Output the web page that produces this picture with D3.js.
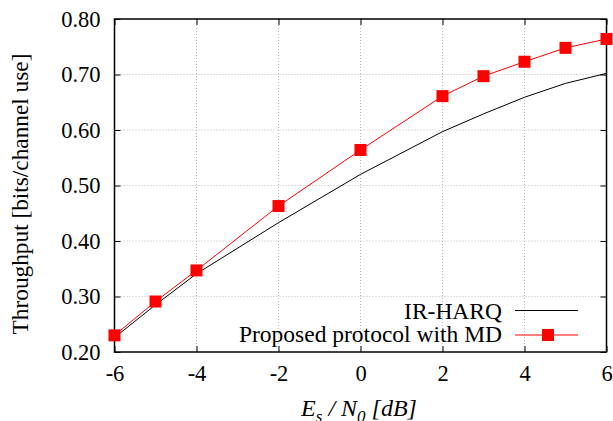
<!DOCTYPE html>
<html>
<head>
<meta charset="utf-8">
<script src="https://d3js.org/d3.v7.min.js"></script>
<style>
body { margin: 0; background: #fff; }
svg text { font-family: "Times New Roman", "Liberation Serif", Times, "DejaVu Serif", serif; fill: #000; }
</style>
</head>
<body>
<svg id="chart" width="613" height="421"></svg>
<script>
// data
var snr = [-6, -5, -4, -2, 0, 2, 3, 4, 5, 6];
var irharq = [0.226, 0.285, 0.341, 0.433, 0.520, 0.597, 0.629, 0.659, 0.684, 0.702];
var proposed = [0.230, 0.291, 0.347, 0.463, 0.564, 0.661, 0.697, 0.723, 0.748, 0.764];
var xTicks = [-6, -4, -2, 0, 2, 4, 6];
var yTicks = [0.20, 0.30, 0.40, 0.50, 0.60, 0.70, 0.80];

var svg = d3.select("#chart");
var m = {l: 114.5, r: 606.5, t: 19, b: 352};
var serif = '"Times New Roman", "Liberation Serif", serif';

var x = d3.scaleLinear([-6, 6], [m.l, m.r]);
var y = d3.scaleLinear([0.2, 0.8], [m.b, m.t]);

// grid
var g = svg.append("g");
g.selectAll("line.gx").data(xTicks.slice(1, -1)).join("line")
  .attr("x1", d => x(d)).attr("x2", d => x(d))
  .attr("y1", m.t).attr("y2", m.b)
  .attr("stroke", "#bbb").attr("stroke-dasharray", "1,2");
g.selectAll("line.gy").data(yTicks.slice(1, -1)).join("line")
  .attr("y1", d => y(d)).attr("y2", d => y(d))
  .attr("x1", m.l).attr("x2", m.r)
  .attr("stroke", "#bbb").attr("stroke-dasharray", "1,2");

// axes, ticks pointing inward on all four sides
var fmt = d3.format(".2f");
svg.append("g").attr("transform", `translate(0,${m.b})`)
  .call(d3.axisBottom(x).tickValues(xTicks).tickSizeInner(-6).tickSizeOuter(0).tickPadding(13).tickFormat(d => String(d)))
  .call(a => a.select(".domain").remove());
svg.append("g").attr("transform", `translate(0,${m.t})`)
  .call(d3.axisTop(x).tickValues(xTicks).tickSizeInner(-6).tickSizeOuter(0).tickFormat(""))
  .call(a => a.select(".domain").remove());
svg.append("g").attr("transform", `translate(${m.l},0)`)
  .call(d3.axisLeft(y).tickValues(yTicks).tickSizeInner(-6).tickSizeOuter(0).tickPadding(14).tickFormat(fmt))
  .call(a => a.select(".domain").remove());
svg.append("g").attr("transform", `translate(${m.r},0)`)
  .call(d3.axisRight(y).tickValues(yTicks).tickSizeInner(-6).tickSizeOuter(0).tickFormat(""))
  .call(a => a.select(".domain").remove());
svg.selectAll("g").attr("font-family", serif);
svg.selectAll(".tick text").attr("font-size", 22.5);
svg.selectAll(".tick line").attr("stroke", "#000");

svg.append("rect").attr("x", m.l).attr("y", m.t)
  .attr("width", m.r - m.l).attr("height", m.b - m.t)
  .attr("fill", "none").attr("stroke", "#000").attr("stroke-width", 1.5);

// lines
var line = d3.line().x((d, i) => x(snr[i])).y(d => y(d));
svg.append("path").datum(irharq).attr("d", line)
  .attr("fill", "none").attr("stroke", "#000").attr("stroke-width", 1);
svg.append("path").datum(proposed).attr("d", line)
  .attr("fill", "none").attr("stroke", "#f00").attr("stroke-width", 1);
svg.selectAll("rect.mk").data(proposed).join("rect").attr("class", "mk")
  .attr("x", (d, i) => x(snr[i]) - 6).attr("y", d => y(d) - 6)
  .attr("width", 12).attr("height", 12).attr("fill", "#f00");

// legend
var leg = svg.append("g").attr("font-family", serif);
leg.append("text").attr("x", 502).attr("y", 319).attr("text-anchor", "end")
  .attr("font-size", 23.5).text("IR-HARQ");
leg.append("line").attr("x1", 515).attr("x2", 578).attr("y1", 310.5).attr("y2", 310.5)
  .attr("stroke", "#000");
leg.append("text").attr("x", 502).attr("y", 342).attr("text-anchor", "end")
  .attr("font-size", 23.5).text("Proposed protocol with MD");
leg.append("line").attr("x1", 515).attr("x2", 578).attr("y1", 335).attr("y2", 335)
  .attr("stroke", "#f00");
leg.append("rect").attr("x", 542).attr("y", 329).attr("width", 12).attr("height", 12)
  .attr("fill", "#f00");

// axis titles
svg.append("text").attr("transform", "translate(28,194) rotate(-90)")
  .attr("text-anchor", "middle").attr("font-size", 23.3)
  .text("Throughput [bits/channel use]");
var xt = svg.append("text").attr("x", 359).attr("y", 416).attr("text-anchor", "middle")
  .attr("font-size", 24).attr("font-style", "italic");
xt.append("tspan").text("E");
xt.append("tspan").attr("dy", 6).attr("font-size", 17).text("s");
xt.append("tspan").attr("dy", -6).text(" / N");
xt.append("tspan").attr("dy", 6).attr("font-size", 17).text("0");
xt.append("tspan").attr("dy", -6).text(" [dB]");
</script>
</body>
</html>
